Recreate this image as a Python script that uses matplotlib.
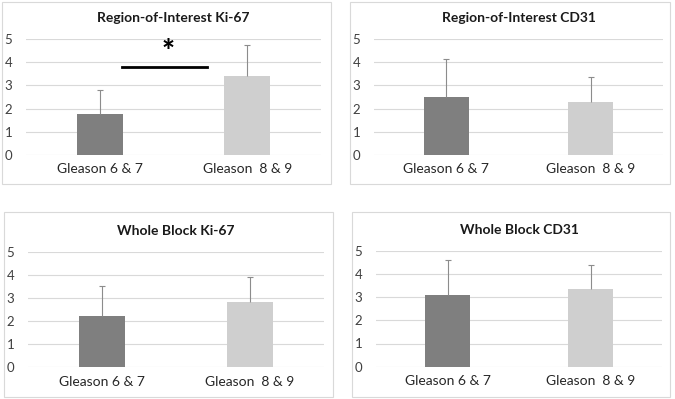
import matplotlib.pyplot as plt
from matplotlib.patches import Rectangle

plt.rcParams['font.family'] = ['Lato', 'DejaVu Sans']

groups = ["Gleason 6 & 7", "Gleason  8 & 9"]
titles = ["Region-of-Interest Ki-67", "Region-of-Interest CD31",
          "Whole Block Ki-67", "Whole Block CD31"]
means = [[1.77, 3.42], [2.48, 2.30], [2.24, 2.81], [3.08, 3.33]]
sds = [[1.05, 1.30], [1.67, 1.06], [1.28, 1.11], [1.51, 1.05]]
bar_colors = ["#7f7f7f", "#cfcfcf"]

W, H = 675, 399
# plot areas in pixels: left, right, top(y=5), bottom(y=0)
areas = [(26, 321, 39, 155), (374, 663, 39, 155),
         (28, 324, 251.7, 367.3), (376, 662, 250.7, 366.7)]
# chart frames in pixels: left, right, top, bottom
frames = [(1.5, 330.5, 2.5, 184.5), (350, 670, 2.5, 184.5),
          (3.5, 333, 211.5, 397), (351.5, 670, 211.5, 397)]

fig = plt.figure(figsize=(6.75, 3.99), dpi=100)

for (l, r, t, b) in frames:
    fig.patches.append(Rectangle((l / W, 1 - b / H), (r - l) / W, (b - t) / H,
                                 transform=fig.transFigure, fill=False,
                                 edgecolor="#d9d9d9", linewidth=0.8))

axes = []
for i, (l, r, t, b) in enumerate(areas):
    ax = fig.add_axes([l / W, 1 - b / H, (r - l) / W, (b - t) / H])
    axes.append(ax)
    x = [0, 1]
    ax.bar(x, means[i], width=0.31, color=bar_colors, zorder=2)
    # plus-only error bars, cap only at the top
    tops = [m + s for m, s in zip(means[i], sds[i])]
    ax.vlines(x, means[i], tops, color="#8c8c8c", linewidth=0.8, zorder=3)
    ax.plot(x, tops, linestyle="none", marker="_", markersize=4,
            markeredgewidth=0.8, color="#8c8c8c", zorder=3)
    ax.set_xlim(-0.5, 1.5)
    ax.set_ylim(0, 5)
    ax.set_yticks(range(6))
    ax.set_xticks(x)
    ax.set_xticklabels(groups, fontsize=10, color="#262626")
    ax.tick_params(axis="y", labelsize=9.5, labelcolor="#404040", length=0, pad=10)
    ax.tick_params(axis="x", length=0, pad=6)
    ax.yaxis.grid(True, color="#d9d9d9", linewidth=0.8, zorder=0)
    ax.set_axisbelow(True)
    for s in ax.spines.values():
        s.set_visible(False)
    ax.set_title(titles[i], fontsize=10, fontweight="bold", color="#1a1a1a", pad=12)

# significance marker on the first panel
ax = axes[0]
ax.plot([0.15, 0.73], [3.8, 3.8], color="black", linewidth=2, zorder=4)
ax.text(0.46, 4.45, "*", ha="center", va="center", fontsize=22, fontweight="black")

fig.savefig("out.png", dpi=100)
